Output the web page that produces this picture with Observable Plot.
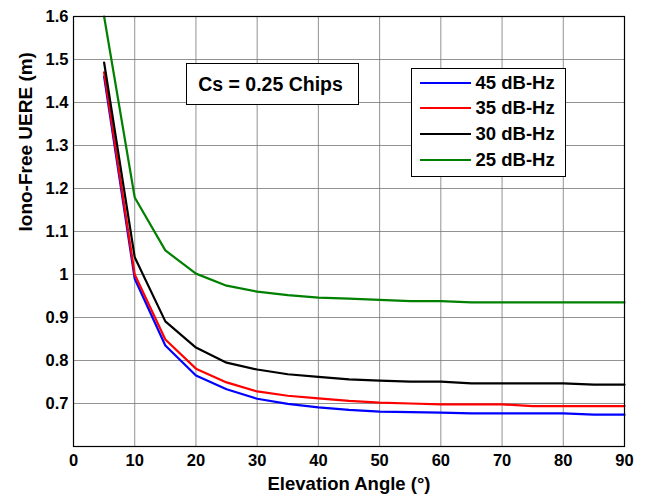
<!DOCTYPE html>
<html>
<head>
<meta charset="utf-8">
<script src="https://cdn.jsdelivr.net/npm/d3@7"></script>
<script src="https://cdn.jsdelivr.net/npm/@observablehq/plot@0.6"></script>
<style>
  body { margin: 0; background: #fff; font-family: "Liberation Sans", Arial, sans-serif; }
  #wrap { position: relative; width: 647px; height: 498px; }
  .box { position: absolute; border: 1.5px solid #000; background: #fff; font-weight: bold; color: #000; box-sizing: border-box; }
  .row { position: absolute; display: flex; align-items: center; font-size: 18.5px; white-space: nowrap; }
  .sw { width: 51px; height: 0; border-top: 2.5px solid; margin-right: 5px; }
</style>
</head>
<body>
<div id="wrap"></div>
<script>
const elevation = [5, 10, 15, 20, 25, 30, 35, 40, 45, 50, 55, 60, 65, 70, 75, 80, 85, 90];
const cn45 = [1.460, 0.990, 0.835, 0.765, 0.733, 0.711, 0.699, 0.691, 0.685, 0.681, 0.680, 0.679, 0.677, 0.677, 0.677, 0.677, 0.674, 0.674];
const cn35 = [1.470, 1.000, 0.849, 0.781, 0.749, 0.728, 0.718, 0.712, 0.706, 0.702, 0.700, 0.698, 0.698, 0.698, 0.694, 0.694, 0.694, 0.694];
const cn30 = [1.493, 1.040, 0.891, 0.830, 0.795, 0.779, 0.768, 0.762, 0.756, 0.753, 0.751, 0.751, 0.747, 0.747, 0.747, 0.747, 0.744, 0.744];
const cn25 = [1.600, 1.179, 1.056, 1.002, 0.974, 0.960, 0.952, 0.946, 0.944, 0.941, 0.938, 0.938, 0.935, 0.935, 0.935, 0.935, 0.935, 0.935];
const seriesNames = ["45 dB-Hz", "35 dB-Hz", "30 dB-Hz", "25 dB-Hz"];
const seriesColors = ["#0000ff", "#ff0000", "#000000", "#008000"];
const xTicks = [0, 10, 20, 30, 40, 50, 60, 70, 80, 90];
const yTicks = [0.7, 0.8, 0.9, 1.0, 1.1, 1.2, 1.3, 1.4, 1.5, 1.6];
const annotation = "Cs = 0.25 Chips";

const seriesValues = [cn45, cn35, cn30, cn25];
const data = [];
seriesValues.forEach((vals, i) => vals.forEach((v, j) => data.push({x: elevation[j], y: v, s: seriesNames[i]})));

const font = "'Liberation Sans', Arial, sans-serif";
const chart = Plot.plot({
  width: 647,
  height: 498,
  marginLeft: 73,
  marginRight: 23,
  marginTop: 16,
  marginBottom: 52,
  style: {fontFamily: font, fontWeight: "bold", fontSize: "16.5px", color: "#000", background: "#fff"},
  x: {domain: [0, 90], ticks: xTicks, tickFormat: d3.format("d")},
  y: {domain: [0.6, 1.6], ticks: yTicks, tickFormat: d => d3.format("")(+d.toFixed(1))},
  color: {domain: seriesNames, range: seriesColors},
  marks: [
    Plot.gridX(xTicks, {stroke: "#777", strokeOpacity: 0.8, strokeWidth: 1}),
    Plot.gridY(yTicks, {stroke: "#777", strokeOpacity: 0.8, strokeWidth: 1}),
    Plot.axisX(xTicks, {tickSize: 0, tickPadding: 8, fontSize: 16.5, label: null}),
    Plot.axisY(yTicks, {tickSize: 0, tickPadding: 5, fontSize: 16.5, label: null, tickFormat: d => d3.format("")(+d.toFixed(1))}),
    Plot.text(["Elevation Angle (°)"], {frameAnchor: "bottom", dy: 38, fontSize: 18.5, fontWeight: "bold", lineAnchor: "middle"}),
    Plot.text(["Iono-Free UERE (m)"], {frameAnchor: "left", dx: -48, rotate: -90, fontSize: 19, fontWeight: "bold", lineAnchor: "middle"}),
    Plot.line(data, {x: "x", y: "y", z: "s", stroke: "s", strokeWidth: 2.2}),
    Plot.frame({stroke: "#000", strokeWidth: 1.2})
  ]
});
const wrap = document.getElementById("wrap");
wrap.appendChild(chart);

// annotation box
const ann = document.createElement("div");
ann.className = "box";
Object.assign(ann.style, {left: "186px", top: "63px", width: "173px", height: "42px", display: "flex", alignItems: "center", justifyContent: "center", fontSize: "19.5px", whiteSpace: "nowrap", paddingRight: "4px"});
ann.textContent = annotation;
wrap.appendChild(ann);

// legend box
const leg = document.createElement("div");
leg.className = "box";
Object.assign(leg.style, {left: "411px", top: "68px", width: "155px", height: "109px"});
seriesNames.forEach((n, i) => {
  const r = document.createElement("div");
  r.className = "row";
  Object.assign(r.style, {left: "7.5px", top: (3.5 + i * 25.7) + "px", height: "20px"});
  const sw = document.createElement("div");
  sw.className = "sw";
  sw.style.borderTopColor = seriesColors[i];
  const t = document.createElement("span");
  t.textContent = n;
  r.appendChild(sw); r.appendChild(t);
  leg.appendChild(r);
});
wrap.appendChild(leg);
</script>
</body>
</html>
